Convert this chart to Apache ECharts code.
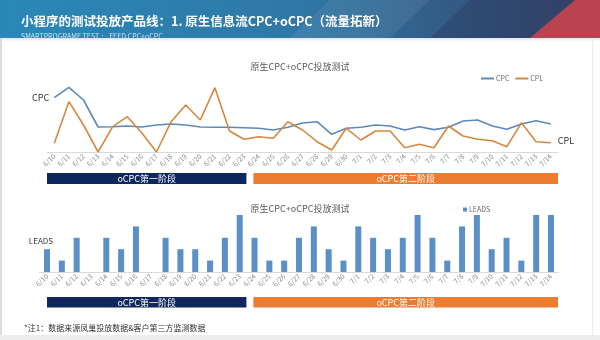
<!DOCTYPE html>
<html>
<head>
<meta charset="utf-8">
<script src="https://cdn.jsdelivr.net/npm/echarts@6/dist/echarts.min.js"></script>
<style>
  html, body { margin: 0; padding: 0; background: #ffffff; }
  #chart { width: 600px; height: 340px; }
</style>
</head>
<body>
<div id="chart"></div>
<script>
// Daily test period
const dates = ['6/10','6/11','6/12','6/13','6/14','6/15','6/16','6/17','6/18','6/19','6/20',
  '6/21','6/22','6/23','6/24','6/25','6/26','6/27','6/28','6/29','6/30',
  '7/1','7/2','7/3','7/4','7/5','7/6','7/7','7/8','7/9','7/10','7/11','7/12','7/13','7/14'];

// Relative cost levels (no axis scale is shown)
const cpc = [54.3, 64.7, 52, 25, 25.3, 26, 25, 27, 28, 27, 25, 24.7, 24.7, 24.3, 23.7, 22, 24.7, 29,
  30.3, 17.7, 23.7, 24.7, 27, 26, 22, 25.3, 22.4, 24.7, 31, 32, 26, 22.7, 28, 31.3, 28];
const cpl = [8.7, 50.3, 27, 0, 25.3, 35.3, 19, 0, 30.3, 47, 32, 64.3, 21, 12.7, 15.3, 13.7, 30.3, 22,
  10.3, 2, 23.7, 12, 21, 21, 4.3, 7.7, 4.3, 26, 16, 12.7, 11.3, 5.3, 29.3, 10.3, 9.3];

// Daily leads
const leads = [2, 1, 3, 0, 3, 2, 4, 0, 3, 2, 2, 1, 3, 5, 3, 1, 1, 3,
  4, 2, 1, 4, 3, 2, 3, 5, 3, 1, 4, 5, 2, 3, 1, 5, 5];

// oCPC rollout phases (category index ranges)
const phaseNames = ['oCPC第一阶段', 'oCPC第二阶段'];
const phaseStart = [0, 14];
const phaseEnd = [13, 34];
const phaseColors = ['#10275e', '#ec7c30'];

const chartTitle = '原生CPC+oCPC投放测试';
const FONT = '"Noto Sans CJK SC", "Noto Sans", sans-serif';

const chart = echarts.init(document.getElementById('chart'), null, { renderer: 'canvas' });

const phaseData = phaseNames.map((n, i) => [phaseStart[i], phaseEnd[i], i]);

function renderPhase(params, api) {
  const idx = api.value(2);
  const s = api.value(0), e = api.value(1);
  const bw = api.size([1, 0])[0];
  const sys = params.coordSys;
  const x0 = api.coord([s, 0])[0] - bw / 2 + (idx > 0 ? 2 : 0);
  const x1 = api.coord([e, 0])[0] + bw / 2 - (idx < phaseNames.length - 1 ? 5 : 0);
  return {
    type: 'rect',
    shape: { x: x0, y: sys.y, width: x1 - x0, height: sys.height },
    style: { fill: phaseColors[idx] },
    textContent: {
      style: { text: phaseNames[idx], fill: '#ffffff', font: '9px ' + FONT }
    },
    textConfig: { position: 'inside' }
  };
}

const catAxisLabel = { fontSize: 7, color: '#8a8a8a', rotate: 45, interval: 0, margin: 3, fontFamily: FONT };

const option = {
  animation: false,
  textStyle: { fontFamily: FONT },
  graphic: [
    { type: 'rect', z: 0, shape: { x: 0, y: 0, width: 600, height: 38 },
      style: { fill: new echarts.graphic.LinearGradient(0, 0, 1, 0, [
        { offset: 0, color: '#2a88b8' }, { offset: 0.5, color: '#2f78a6' },
        { offset: 0.8, color: '#34557e' }, { offset: 1, color: '#3a4669' }]) } },
    { type: 'polygon', z: 0, shape: { points: [[330, 0], [430, 0], [390, 38], [290, 38]] },
      style: { fill: 'rgba(255,255,255,0.07)' } },
    { type: 'polygon', z: 0, shape: { points: [[470, 0], [575, 0], [530, 38], [430, 38]] },
      style: { fill: 'rgba(30,40,80,0.25)' } },
    { type: 'polygon', z: 0, shape: { points: [[575, 0], [600, 0], [600, 38], [530, 38]] },
      style: { fill: '#b9434f' } },
    { type: 'rect', z: 0, shape: { x: 0, y: 38, width: 600, height: 4 },
      style: { fill: new echarts.graphic.LinearGradient(0, 0, 0, 1, [
        { offset: 0, color: '#e4e6e8' }, { offset: 1, color: '#ffffff' }]) } },
    { type: 'rect', z: 0, shape: { x: 0, y: 38, width: 2, height: 302 }, style: { fill: '#dcdcdc' } },
    { type: 'rect', z: 0, shape: { x: 592, y: 38, width: 1, height: 302 }, style: { fill: '#ececec' } },
    { type: 'rect', z: 0, shape: { x: 0, y: 335, width: 600, height: 5 }, style: { fill: '#ececec' } }
  ],
  title: [
    { text: '小程序的测试投放产品线：1. 原生信息流CPC+oCPC（流量拓新）', left: 16, top: 10,
      textStyle: { color: '#ffffff', fontSize: 12.5, fontWeight: 'bold', fontFamily: FONT } },
    { text: 'SMARTPROGRAME TEST ： FEED CPC+oCPC', left: 16, top: 28,
      textStyle: { color: '#cfe3ef', fontSize: 7, fontWeight: 'normal', fontFamily: FONT } },
    { text: chartTitle, left: 'center', top: 57,
      textStyle: { color: '#595959', fontSize: 9, fontWeight: 'normal', fontFamily: FONT } },
    { text: chartTitle, left: 'center', top: 199,
      textStyle: { color: '#595959', fontSize: 9, fontWeight: 'normal', fontFamily: FONT } },
    { text: '*注1：数据来源凤巢投放数据&客户第三方监测数据', left: 19, top: 319,
      textStyle: { color: '#333333', fontSize: 8, fontWeight: 'normal', fontFamily: FONT } }
  ],
  legend: [
    { data: ['CPC', 'CPL'], left: 476, top: 70, icon: 'rect', itemWidth: 13, itemHeight: 2,
      itemGap: 6, textStyle: { fontSize: 7, color: '#666666', padding: [0, 0, 0, -3] } },
    { data: ['LEADS'], left: 458, top: 201, icon: 'rect', itemWidth: 4, itemHeight: 4,
      itemGap: 4, textStyle: { fontSize: 7, color: '#666666', padding: [0, 0, 0, -3] } }
  ],
  grid: [
    { left: 47, right: 42, top: 72, height: 80 },
    { left: 47, right: 42, top: 173, height: 11 },
    { left: 39.6, right: 41.6, top: 215, height: 57 },
    { left: 47, right: 42, top: 297, height: 10.5 }
  ],
  xAxis: [
    { gridIndex: 0, type: 'category', data: dates, boundaryGap: true,
      axisLine: { lineStyle: { color: '#d9d9d9' } }, axisTick: { show: false }, axisLabel: catAxisLabel },
    { gridIndex: 1, type: 'category', data: dates, show: false },
    { gridIndex: 2, type: 'category', data: dates, boundaryGap: true,
      axisLine: { lineStyle: { color: '#d9d9d9' } }, axisTick: { show: false }, axisLabel: catAxisLabel },
    { gridIndex: 3, type: 'category', data: dates, show: false }
  ],
  yAxis: [
    { gridIndex: 0, type: 'value', min: 0, max: 80, show: false, splitLine: { show: false } },
    { gridIndex: 1, type: 'value', min: 0, max: 1, show: false },
    { gridIndex: 2, type: 'value', min: 0, max: 5, show: false, splitLine: { show: false } },
    { gridIndex: 3, type: 'value', min: 0, max: 1, show: false }
  ],
  series: [
    { name: 'CPC', type: 'line', xAxisIndex: 0, yAxisIndex: 0, data: cpc,
      color: '#5b89b9', symbol: 'circle', symbolSize: 0, lineStyle: { width: 1.6, color: '#5b89b9' },
      label: { show: true, position: 'left', distance: 5, fontSize: 9, color: '#333333',
        formatter: p => p.dataIndex === 0 ? p.seriesName : '' } },
    { name: 'CPL', type: 'line', xAxisIndex: 0, yAxisIndex: 0, data: cpl,
      color: '#d4883f', symbol: 'circle', symbolSize: 0, lineStyle: { width: 1.6, color: '#d4883f' },
      label: { show: true, position: 'right', distance: 7, fontSize: 9, color: '#333333', offset: [0, -2],
        formatter: p => p.dataIndex === cpl.length - 1 ? p.seriesName : '' } },
    { name: 'phase-top', type: 'custom', xAxisIndex: 1, yAxisIndex: 1, data: phaseData,
      encode: { x: [0, 1] }, renderItem: renderPhase, silent: true },
    { name: 'LEADS', type: 'bar', xAxisIndex: 2, yAxisIndex: 2, data: leads, barWidth: 6,
      color: '#5a8fc8', itemStyle: { color: '#5a8fc8' },
      label: { show: true, position: 'left', distance: 5, offset: [14, -20], fontSize: 8, color: '#333333',
        formatter: p => p.dataIndex === 0 ? p.seriesName : '' } },
    { name: 'phase-bottom', type: 'custom', xAxisIndex: 3, yAxisIndex: 3, data: phaseData,
      encode: { x: [0, 1] }, renderItem: renderPhase, silent: true }
  ]
};

chart.setOption(option);
</script>
</body>
</html>
